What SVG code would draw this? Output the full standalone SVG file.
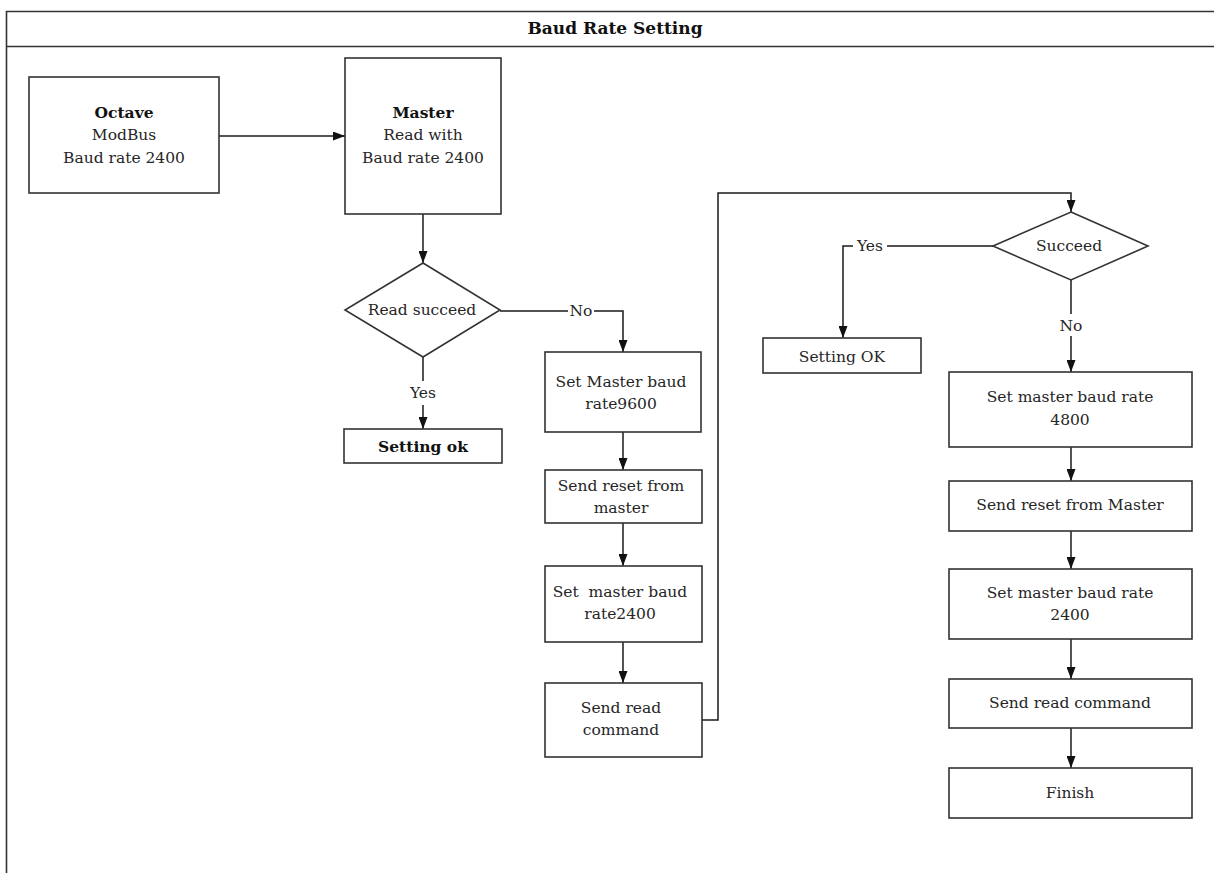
<svg xmlns="http://www.w3.org/2000/svg" width="1214" height="873" viewBox="0 0 1214 873">
<style>
  text { font-family: "DejaVu Serif", "Liberation Serif", serif; font-size: 15.5px; fill: #262626; text-anchor: middle; }
  .b { font-weight: bold; fill: #111; }
  .title { font-size: 17px; font-weight: bold; fill: #111; }
  .box { fill: #fff; stroke: #333; stroke-width: 1.6; }
  .frame { fill: none; stroke: #333; stroke-width: 1.6; }
  .edge { fill: none; stroke: #1a1a1a; stroke-width: 1.5; }
  .arr { marker-end: url(#ah); }
  .lblbg { fill: #fff; }
</style>
<defs>
  <marker id="ah" markerUnits="userSpaceOnUse" markerWidth="13" markerHeight="9" refX="12" refY="4.5" orient="auto">
    <path d="M0,0 L12,4.5 L0,9 z" fill="#111"/>
  </marker>
</defs>
<rect x="0" y="0" width="1214" height="873" fill="#fff"/>
<g id="frame">
  <path class="frame" d="M1214,11.5 H6.5 V873 M6.5,46.5 H1214"/>
  <text class="title" x="615" y="34">Baud Rate Setting</text>
</g>
<g id="connectors">
  <path class="edge arr" d="M219,136 H345"/>
  <path class="edge arr" d="M423,214 V263"/>
  <path class="edge arr" d="M500,311 H623 V352"/>
  <rect class="lblbg" x="568" y="300" width="26" height="20"/>
  <text x="581" y="316">No</text>
  <path class="edge" d="M423,357 V381"/>
  <path class="edge arr" d="M423,405 V429"/>
  <rect class="lblbg" x="406" y="382" width="34" height="22"/>
  <text x="423" y="398">Yes</text>
  <path class="edge arr" d="M623,432 V470"/>
  <path class="edge arr" d="M623,523 V566"/>
  <path class="edge arr" d="M623,642 V683"/>
  <path class="edge arr" d="M702,720 H718 V193 H1071 V212"/>
  <path class="edge arr" d="M993,246 H843 V338"/>
  <rect class="lblbg" x="853" y="236" width="34" height="20"/>
  <text x="870" y="251">Yes</text>
  <path class="edge arr" d="M1071,280 V372"/>
  <rect class="lblbg" x="1058" y="314" width="26" height="22"/>
  <text x="1071" y="331">No</text>
  <path class="edge arr" d="M1071,447 V481"/>
  <path class="edge arr" d="M1071,531 V569"/>
  <path class="edge arr" d="M1071,639 V679"/>
  <path class="edge arr" d="M1071,728 V768"/>
</g>
<g id="octave">
  <rect class="box" x="29" y="77" width="190" height="116"/>
  <text class="b" x="124" y="118">Octave</text>
  <text x="124" y="140">ModBus</text>
  <text x="124" y="163">Baud rate 2400</text>
</g>
<g id="master">
  <rect class="box" x="345" y="58" width="156" height="156"/>
  <text class="b" x="423" y="118">Master</text>
  <text x="423" y="140">Read with</text>
  <text x="423" y="163">Baud rate 2400</text>
</g>
<g id="read-succeed">
  <polygon class="box" points="423,263 500,310 423,357 345,310"/>
  <text x="422" y="315">Read succeed</text>
</g>
<g id="setting-ok-left">
  <rect class="box" x="344" y="429" width="158" height="34"/>
  <text class="b" x="423" y="452">Setting ok</text>
</g>
<g id="set-master-9600">
  <rect class="box" x="545" y="352" width="156" height="80"/>
  <text x="621" y="387">Set Master baud</text>
  <text x="621" y="409">rate9600</text>
</g>
<g id="send-reset-left">
  <rect class="box" x="545" y="470" width="157" height="53"/>
  <text x="621" y="491">Send reset from</text>
  <text x="621" y="513">master</text>
</g>
<g id="set-master-2400-left">
  <rect class="box" x="545" y="566" width="157" height="76"/>
  <text x="620" y="597" style="white-space:pre">Set  master baud</text>
  <text x="620" y="619">rate2400</text>
</g>
<g id="send-read-left">
  <rect class="box" x="545" y="683" width="157" height="74"/>
  <text x="621" y="713">Send read</text>
  <text x="621" y="735">command</text>
</g>
<g id="succeed">
  <polygon class="box" points="1071,212 1148,246 1071,280 993,246"/>
  <text x="1069" y="251">Succeed</text>
</g>
<g id="setting-ok-right">
  <rect class="box" x="763" y="338" width="158" height="35"/>
  <text x="842" y="362">Setting OK</text>
</g>
<g id="set-master-4800">
  <rect class="box" x="949" y="372" width="243" height="75"/>
  <text x="1070" y="402">Set master baud rate</text>
  <text x="1070" y="425">4800</text>
</g>
<g id="send-reset-right">
  <rect class="box" x="949" y="481" width="243" height="50"/>
  <text x="1070" y="510">Send reset from Master</text>
</g>
<g id="set-master-2400-right">
  <rect class="box" x="949" y="569" width="243" height="70"/>
  <text x="1070" y="598">Set master baud rate</text>
  <text x="1070" y="620">2400</text>
</g>
<g id="send-read-right">
  <rect class="box" x="949" y="679" width="243" height="49"/>
  <text x="1070" y="708">Send read command</text>
</g>
<g id="finish">
  <rect class="box" x="949" y="768" width="243" height="50"/>
  <text x="1070" y="798">Finish</text>
</g>
</svg>
